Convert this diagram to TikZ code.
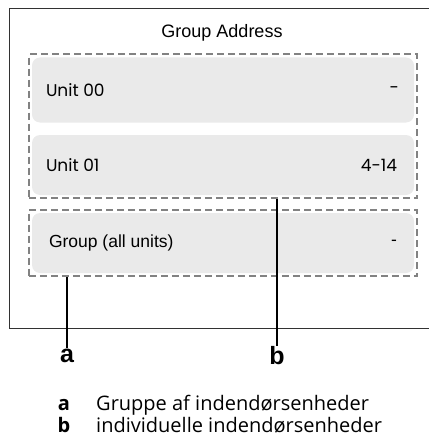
\documentclass[tikz,border=0pt]{standalone}
\usepackage{fontspec}
\setmainfont{Liberation Sans}
\newfontfamily\unitfont{Poppins}
\newfontfamily\legendfont{Open Sans}
\usetikzlibrary{positioning,fit}
\definecolor{rowgray}{RGB}{234,234,234}
\definecolor{dashgray}{RGB}{130,130,130}
\definecolor{framegray}{RGB}{50,50,50}
\tikzset{
  row/.style={rectangle, rounded corners=8pt, fill=rowgray, minimum width=382pt, inner sep=0pt},
  unittxt/.style={font=\unitfont\fontsize{17}{20}\selectfont, inner sep=0pt},
  grptxt/.style={font=\fontsize{17.5}{20}\selectfont, inner sep=0pt},
  dashbox/.style={draw=dashgray, line width=2pt, dash pattern=on 7pt off 4pt, inner sep=3pt},
  callout/.style={font=\bfseries\fontsize{25}{28}\selectfont, inner sep=1pt},
  leader/.style={draw=black, line width=2.5pt},
  keytxt/.style={font=\legendfont\fontsize{20}{22}\selectfont, inner sep=0pt},
  keyltr/.style={font=\legendfont\bfseries\fontsize{20}{22}\selectfont, inner sep=0pt},
}

\begin{document}
\begin{tikzpicture}[x=1pt, y=-1pt]
\useasboundingbox (0,0) rectangle (428,441);

% frame, open on the right
\draw[framegray, line width=1pt] (430,9) -- (9,9) -- (9,328) -- (430,328);
\node[font=\fontsize{18}{20}\selectfont] (title) at (222,33) {Group Address};

% unit rows
\node[row, minimum height=65pt] (row0) at (223,90) {};
\node[row, minimum height=60pt] (row1) at (223,165) {};
\node[row, minimum height=60pt] (rowg) at (223,243) {};

\node[unittxt, anchor=west] (u0name) at ([xshift=14pt]row0.west) {Unit 00};
\node[unittxt, anchor=east] (u0addr) at ([xshift=-15pt]row0.east) {-};
\node[unittxt, anchor=west] (u1name) at ([xshift=14pt]row1.west) {Unit 01};
\node[unittxt, anchor=east] (u1addr) at ([xshift=-17pt]row1.east) {4-14};
\node[grptxt, anchor=west] (gname) at ([xshift=17pt]rowg.west) {Group (all units)};
\node[grptxt, anchor=east] (gaddr) at ([xshift=-17pt]rowg.east) {-};

% groupings
\node[dashbox, fit=(row0)(row1)] (unitbox) {};
\node[dashbox, fit=(rowg)] (grpbox) {};

% callouts
\node[callout] (ca) at (67,356) {a};
\node[callout] (cb) at (277,356) {b};
\draw[leader] (grpbox.south -| ca) -- (ca.north);
\draw[leader] (unitbox.south -| cb) -- (cb.north);

% legend
\node[keyltr] (ka) at (64,405) {a};
\node[keytxt, anchor=west] (ta) at (96,405) {Gruppe af indendørsenheder};
\node[keyltr] (kb) at (64,425) {b};
\node[keytxt, anchor=west] (tb) at (96,425) {individuelle indendørsenheder};

\end{tikzpicture}
\end{document}
